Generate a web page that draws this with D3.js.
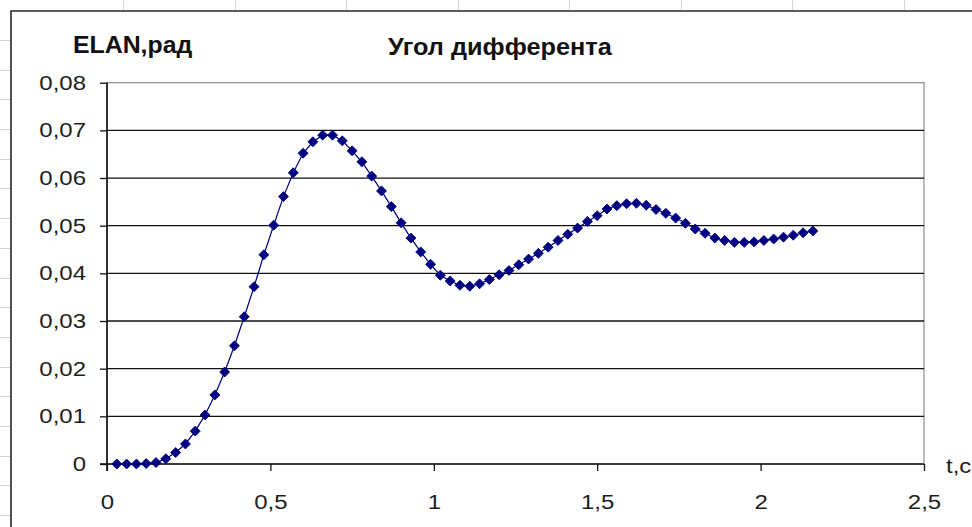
<!DOCTYPE html>
<html>
<head>
<meta charset="utf-8">
<script src="https://cdn.jsdelivr.net/npm/d3@7"></script>
<style>
  html, body { margin: 0; padding: 0; background: #fff; }
  svg { display: block; }
  text { font-family: "Liberation Sans", Arial, sans-serif; }
</style>
</head>
<body>
<svg id="chart" width="972" height="527"></svg>
<script>
// ---- data ----
const tValues = [0.03,0.06,0.09,0.12,0.15,0.18,0.21,0.24,0.27,0.30,
  0.33,0.36,0.39,0.42,0.45,0.48,0.51,0.54,0.57,0.60,
  0.63,0.66,0.69,0.72,0.75,0.78,0.81,0.84,0.87,0.90,
  0.93,0.96,0.99,1.02,1.05,1.08,1.11,1.14,1.17,1.20,
  1.23,1.26,1.29,1.32,1.35,1.38,1.41,1.44,1.47,1.50,
  1.53,1.56,1.59,1.62,1.65,1.68,1.71,1.74,1.77,1.80,
  1.83,1.86,1.89,1.92,1.95,1.98,2.01,2.04,2.07,2.10,
  2.13,2.16];
const elanValues = [0.0000,0.0000,0.0000,0.0001,0.0003,0.0011,0.0024,0.0042,0.0069,0.0103,
  0.0145,0.0193,0.0248,0.0309,0.0372,0.0439,0.0501,0.0561,0.0611,0.0652,
  0.0676,0.0690,0.0690,0.0678,0.0657,0.0634,0.0604,0.0573,0.0540,0.0506,
  0.0474,0.0445,0.0419,0.0396,0.0384,0.0375,0.0373,0.0378,0.0387,0.0397,
  0.0406,0.0418,0.0430,0.0442,0.0455,0.0469,0.0482,0.0495,0.0509,0.0521,
  0.0535,0.0542,0.0546,0.0547,0.0543,0.0534,0.0526,0.0516,0.0505,0.0493,
  0.0484,0.0474,0.0469,0.0465,0.0465,0.0466,0.0469,0.0472,0.0476,0.0480,
  0.0485,0.0489];
const xTicks = [0, 0.5, 1, 1.5, 2, 2.5];
const xTickLabels = ["0", "0,5", "1", "1,5", "2", "2,5"];
const yTicks = [0, 0.01, 0.02, 0.03, 0.04, 0.05, 0.06, 0.07, 0.08];
const yTickLabels = ["0", "0,01", "0,02", "0,03", "0,04", "0,05", "0,06", "0,07", "0,08"];
const chartTitle = "Угол дифферента";
const yTitle = "ELAN,рад";
const xTitle = "t,c";

// ---- drawing ----
const svg = d3.select("#chart");
const W = 972, H = 527;
const plot = { left: 107, right: 924, top: 82.7, bottom: 464 };

// widen glyphs horizontally (reference text is stretched)
function stretch(sel, k) {
  sel.each(function () {
    const w = this.getComputedTextLength();
    d3.select(this).attr("textLength", w * k).attr("lengthAdjust", "spacingAndGlyphs");
  });
}

svg.append("rect").attr("width", W).attr("height", H).attr("fill", "#fff");

// spreadsheet cell borders peeking outside the chart frame
const sheet = svg.append("g").attr("stroke", "#d4d4d4").attr("stroke-width", 1);
for (let cx = 123; cx < W; cx += 111.5) {
  sheet.append("line").attr("x1", Math.round(cx) + 0.5).attr("x2", Math.round(cx) + 0.5).attr("y1", 0).attr("y2", 10);
}
for (let cy = 40; cy < H; cy += 29.69) {
  sheet.append("line").attr("x1", 0).attr("x2", 10).attr("y1", Math.round(cy) + 0.5).attr("y2", Math.round(cy) + 0.5);
}

// chart frame
svg.append("path")
  .attr("d", `M11,${H} L11,11 L${W},11`)
  .attr("fill", "none").attr("stroke", "#2a2a2a").attr("stroke-width", 1.6);

const x = d3.scaleLinear().domain([0, 2.5]).range([plot.left, plot.right]);
const y = d3.scaleLinear().domain([0, 0.08]).range([plot.bottom, plot.top]);

// plot area border (gray)
svg.append("rect")
  .attr("x", x(0)).attr("y", y(0.08))
  .attr("width", x(2.5) - x(0)).attr("height", y(0) - y(0.08))
  .attr("fill", "none").attr("stroke", "#8c8c8c").attr("stroke-width", 1.2);

// gridlines
svg.append("g").selectAll("line")
  .data(yTicks.filter(v => v > 0 && v < 0.08))
  .join("line")
  .attr("x1", x(0)).attr("x2", x(2.5))
  .attr("y1", d => y(d)).attr("y2", d => y(d))
  .attr("stroke", "#111").attr("stroke-width", 1.3);

// y axis
const yAxis = svg.append("g")
  .attr("transform", `translate(${x(0)},0)`)
  .call(d3.axisLeft(y).tickValues(yTicks).tickSize(7).tickPadding(14)
    .tickFormat((d, i) => yTickLabels[i]));
yAxis.select(".domain").attr("stroke", "#111").attr("stroke-width", 1.6)
  .attr("d", `M0,${y(0) + 7}V${y(0.08)}`);
yAxis.selectAll(".tick line").attr("stroke", "#111").attr("stroke-width", 1.3);
yAxis.selectAll(".tick text")
  .attr("font-size", 20).attr("fill", "#1e1e1e")
  .attr("font-family", "'Liberation Sans', Arial, sans-serif")
  .call(stretch, 1.2);

// x axis
const xAxis = svg.append("g")
  .attr("transform", `translate(0,${y(0)})`)
  .call(d3.axisBottom(x).tickValues(xTicks).tickSize(7).tickPadding(24)
    .tickFormat((d, i) => xTickLabels[i]));
xAxis.select(".domain").attr("stroke", "#111").attr("stroke-width", 1.6)
  .attr("d", `M${x(0) - 7},0H${x(2.5)}`);
xAxis.selectAll(".tick line").attr("stroke", "#111").attr("stroke-width", 1.3);
xAxis.selectAll(".tick text")
  .attr("font-size", 20).attr("fill", "#1e1e1e")
  .attr("font-family", "'Liberation Sans', Arial, sans-serif")
  .call(stretch, 1.2);

// series line
const pts = tValues.map((t, i) => [t, elanValues[i]]);
svg.append("path")
  .datum(pts)
  .attr("fill", "none").attr("stroke", "#000080").attr("stroke-width", 1.2)
  .attr("d", d3.line().x(d => x(d[0])).y(d => y(d[1])));

// diamond markers
const diamond = d3.symbol().type(d3.symbolSquare).size(50);
svg.append("g").selectAll("path")
  .data(pts)
  .join("path")
  .attr("d", diamond)
  .attr("transform", d => `translate(${x(d[0])},${y(d[1])}) rotate(45)`)
  .attr("fill", "#000080").attr("stroke", "#000080").attr("stroke-width", 0.8);

// titles
svg.append("text").attr("x", 73).attr("y", 53)
  .attr("font-size", 23).attr("font-weight", "bold").attr("fill", "#111")
  .text(yTitle).call(stretch, 1.08);
svg.append("text").attr("x", 388).attr("y", 55)
  .attr("font-size", 23).attr("font-weight", "bold").attr("fill", "#111")
  .text(chartTitle).call(stretch, 1.1);
svg.append("text").attr("x", 946).attr("y", 473)
  .attr("font-size", 20).attr("fill", "#1e1e1e")
  .text(xTitle).call(stretch, 1.2);
</script>
</body>
</html>
